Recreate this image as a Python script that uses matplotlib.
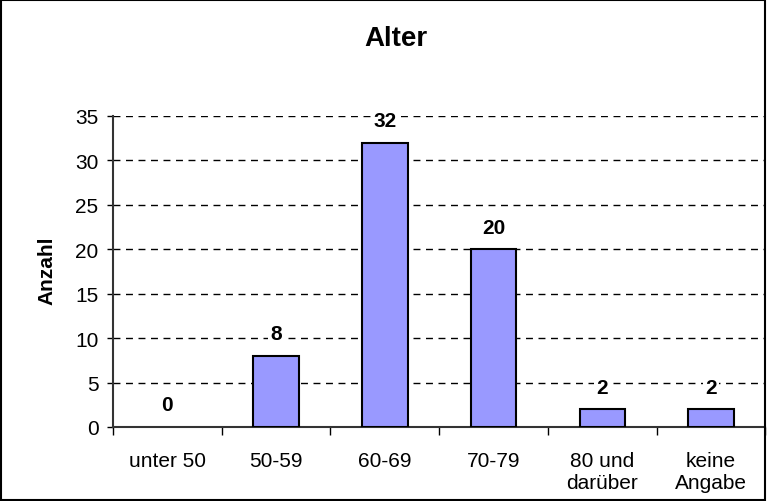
import matplotlib
matplotlib.use("Agg")
import matplotlib.pyplot as plt
from matplotlib.patches import Rectangle
import numpy as np

plt.rcParams['font.family'] = ['Liberation Sans', 'DejaVu Sans']

categories = ['unter 50', '50-59', '60-69', '70-79', '80 und\ndarüber', 'keine\nAngabe']
counts = [0, 8, 32, 20, 2, 2]
yticks = [0, 5, 10, 15, 20, 25, 30, 35]

fig = plt.figure(figsize=(7.67, 5.02), dpi=100)
ax = fig.add_axes([113 / 767, 1 - 428 / 502, 1 - 113 / 767 - 0.002, (428 - 117) / 502])

x = np.arange(len(categories))
edges = ['black' if v > 0 else 'none' for v in counts]
ax.bar(x, counts, width=0.42, color='#9999FF', edgecolor=edges, linewidth=1.5, zorder=3)

# value labels with white box over the grid
for xi, v in zip(x, counts):
    ax.annotate(str(v), (xi, v), xytext=(0, 12), textcoords='offset points',
                ha='center', va='baseline', fontsize=15, fontweight='bold', zorder=4,
                bbox=dict(boxstyle='square,pad=0.1', facecolor='white', edgecolor='none'))

ax.set_xlim(-0.5, len(categories) - 0.5)
ax.set_ylim(0, 35)
ax.set_yticks(yticks)
ax.tick_params(axis='y', labelsize=15, length=4.5, width=1, direction='out', pad=6)
ax.yaxis.grid(True, linestyle=(0, (5, 4)), color='black', linewidth=1)

# category ticks at boundaries, labels centered
ax.set_xticks(np.arange(len(categories) + 1) - 0.5)
ax.set_xticklabels([])
ax.set_xticks(x, minor=True)
ax.set_xticklabels(categories, minor=True, fontsize=15, linespacing=1.25)
ax.tick_params(axis='x', which='major', length=6, width=1, direction='out')
ax.tick_params(axis='x', which='minor', length=0, pad=17)

for side in ['top', 'right']:
    ax.spines[side].set_visible(False)
ax.spines['left'].set_linewidth(1.5)
ax.spines['left'].set_color('#333333')
ax.spines['bottom'].set_linewidth(1.5)
ax.spines['bottom'].set_color('#333333')
ax.spines['bottom'].set_linestyle((0, (5, 1)))
ax.set_axisbelow(True)

fig.text(47 / 767, 1 - 271 / 502, 'Anzahl', rotation=90, ha='center', va='center',
         fontsize=15, fontweight='bold')
fig.text(396 / 767, 1 - 46 / 502, 'Alter', ha='center', va='baseline', fontsize=20, fontweight='bold')

fig.patches.append(Rectangle((0.001, 0.001), 0.997, 0.997, transform=fig.transFigure,
                             fill=False, edgecolor='black', linewidth=1.5))

fig.savefig('out.png', dpi=100)
